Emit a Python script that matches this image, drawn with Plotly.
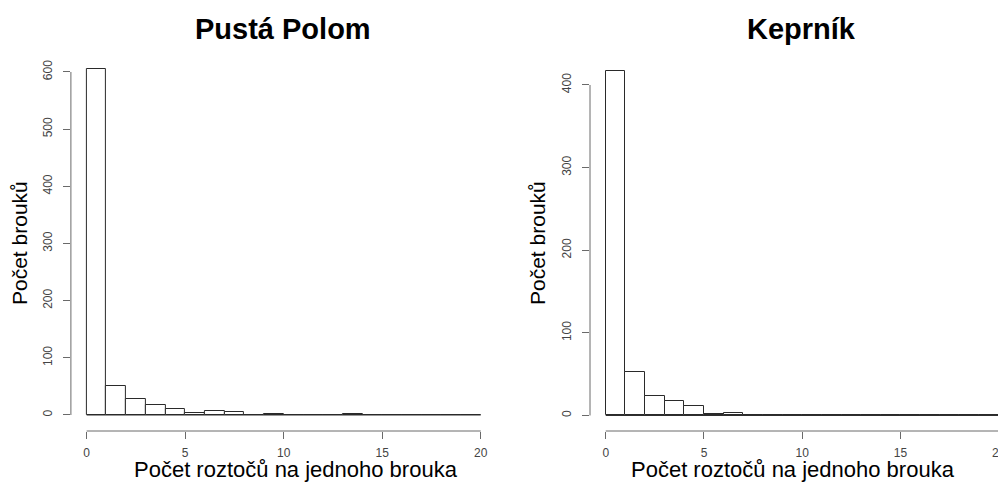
import plotly.graph_objects as go

# ---- data ----
bin_edges = list(range(0, 21))
counts_pusta = [605, 50, 28, 17, 10, 3, 7, 5, 0, 1, 0, 0, 0, 1, 0, 0, 0, 0, 0, 0]
counts_keprnik = [417, 53, 23, 18, 11, 2, 3, 1, 1, 1, 0, 1, 0, 0, 1, 0, 0, 0, 0, 0]
x_ticks = [0, 5, 10, 15, 20]
y_ticks_pusta = [0, 100, 200, 300, 400, 500, 600]
y_ticks_keprnik = [0, 100, 200, 300, 400]
titles = ["Pustá Polom", "Keprník"]
x_title = "Počet roztočů na jednoho brouka"
y_title = "Počet brouků"

# page has an 8px body margin; size the figure so it fills the 1006x488 window
VIEW_W, VIEW_H = 1006, 488
OFF = 8
W, H = VIEW_W - OFF, VIEW_H - OFF
FONT = "Liberation Sans, Arial, sans-serif"
BAR_LINE = "#2a2a2a"
AXIS_LINE = "#6a6a6a"
TICK_FONT = dict(family=FONT, size=12, color="#444444")


def px(v):
    return min(1.0, max(0.0, (v - OFF) / W))


def py(v):
    return min(1.0, max(0.0, 1 - (v - OFF) / H))


fig = go.Figure()

panels = [
    # (counts, yticks, xdomain px, xrange, ydomain px, yrange, axis suffix)
    (counts_pusta, y_ticks_pusta, (70.9, 496.5), [-0.8, 20.8], (431, 55), [-28.0, 629.7], ""),
    (counts_keprnik, y_ticks_keprnik, (590.0, 1006), [-0.8, 20.37], (431, 55), [-18.8, 436.3], "2"),
]

for counts, yt, xd, xr, yd, yr, s in panels:
    xa = "x" + s
    ya = "y" + s
    fig.add_trace(go.Bar(
        x=bin_edges[:-1], y=counts, width=1, offset=0,
        marker=dict(color="white", line=dict(color=BAR_LINE, width=1)),
        xaxis=xa, yaxis=ya, showlegend=False, hoverinfo="x+y",
    ))
    axis_common = dict(showgrid=False, zeroline=False, showline=False,
                       ticks="outside", ticklen=7, tickwidth=1, tickcolor=AXIS_LINE,
                       tickfont=TICK_FONT, fixedrange=True)
    fig.update_layout(**{
        "xaxis" + s: dict(domain=[px(xd[0]), px(xd[1])], range=xr, tickvals=x_ticks,
                          anchor=ya, ticklabelstandoff=4, **axis_common),
        "yaxis" + s: dict(domain=[py(yd[0]), py(yd[1])], range=yr, tickvals=yt,
                          anchor=xa, tickangle=-90, ticklabelstandoff=6, **axis_common),
    })
    # R-style axis lines spanning only the tick range
    fig.add_shape(type="line", xref=xa, yref=ya + " domain",
                  x0=x_ticks[0], x1=x_ticks[-1], y0=0, y1=0,
                  line=dict(color=AXIS_LINE, width=1))
    fig.add_shape(type="line", xref=xa + " domain", yref=ya,
                  x0=0, x1=0, y0=yt[0], y1=yt[-1],
                  line=dict(color=AXIS_LINE, width=1))
    # baseline of empty bins (R draws zero-height rectangles)
    fig.add_shape(type="line", xref=xa, yref=ya,
                  x0=bin_edges[0], x1=bin_edges[-1], y0=0, y1=0,
                  line=dict(color=BAR_LINE, width=1), layer="below")

annotations = []
# main titles
for t, cx in zip(titles, [283, 801]):
    annotations.append(dict(text=t, x=px(cx), y=py(28.5), xref="paper", yref="paper",
                            xanchor="center", yanchor="middle", showarrow=False,
                            font=dict(family=FONT, size=29, color="black", weight="bold")))
# x titles
for cx in [296, 793]:
    annotations.append(dict(text=x_title, x=px(cx), y=py(469), xref="paper", yref="paper",
                            xanchor="center", yanchor="middle", showarrow=False,
                            font=dict(family=FONT, size=22, color="black")))
# y titles
for cx in [20, 538]:
    annotations.append(dict(text=y_title, x=px(cx), y=py(243), xref="paper", yref="paper",
                            xanchor="center", yanchor="middle", showarrow=False, textangle=-90,
                            font=dict(family=FONT, size=21, color="black")))

fig.update_layout(
    width=W, height=H,
    margin=dict(l=0, r=0, t=0, b=0),
    paper_bgcolor="white", plot_bgcolor="white",
    bargap=0, annotations=annotations,
)

fig.write_html("out.html")
